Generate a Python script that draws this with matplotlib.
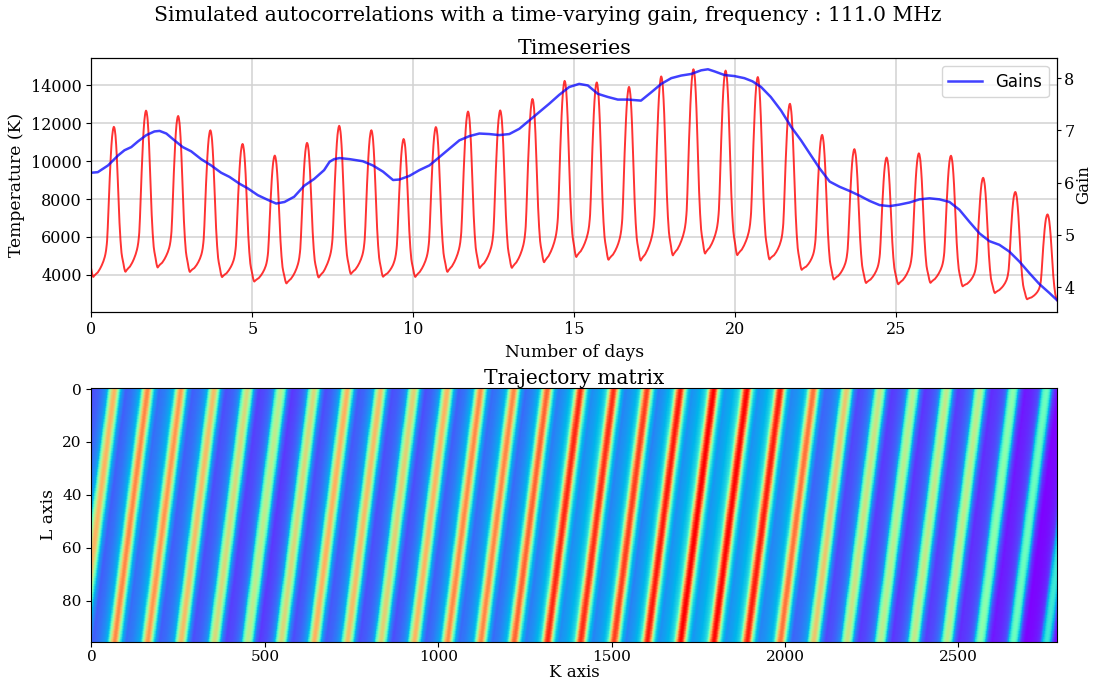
import numpy as np
import matplotlib
matplotlib.use("Agg")
import matplotlib.pyplot as plt

# ---------------------------------------------------------------
# Simulation inputs
# ---------------------------------------------------------------
SAMPLES_PER_DAY = 96          # 15-minute integrations
N_DAYS = 30
WINDOW_L = 96                 # embedding window (one day)
FREQ_MHZ = 111.0

# Sky brightness temperature over one day (K), one value per 15 min
sky_profile_k = [
    692, 675, 660, 648, 638, 631, 628, 632, 635, 639,
    642, 646, 649, 651, 653, 656, 658, 661, 663, 665,
    669, 673, 676, 680, 685, 690, 694, 699, 704, 709,
    714, 720, 726, 732, 738, 745, 752, 760, 768, 776,
    786, 797, 809, 824, 840, 862, 887, 918, 966, 1026,
    1099, 1171, 1244, 1316, 1376, 1437, 1497, 1557, 1606, 1654,
    1696, 1732, 1763, 1787, 1805, 1821, 1830, 1835, 1830, 1821,
    1805, 1784, 1757, 1720, 1678, 1630, 1576, 1515, 1449, 1376,
    1304, 1232, 1159, 1093, 1032, 978, 930, 887, 851, 815,
    785, 765, 748, 735, 722, 710,
]

# Receiver gain drift (day, gain)
gain_days = [
    0.0, 0.2, 0.52, 0.83, 1.03, 1.24, 1.45, 1.71, 1.96, 2.12,
    2.33, 2.58, 2.84, 3.1, 3.41, 3.72, 4.03, 4.29, 4.6, 4.86,
    5.17, 5.48, 5.74, 6.0, 6.3, 6.61, 6.92, 7.23, 7.4, 7.54,
    7.71, 8.02, 8.43, 8.74, 9.06, 9.37, 9.57, 9.88, 10.19, 10.5,
    10.81, 11.12, 11.43, 11.74, 12.05, 12.36, 12.67, 12.98, 13.29, 13.6,
    13.91, 14.22, 14.53, 14.84, 15.15, 15.42, 15.73, 16.04, 16.35, 16.66,
    17.07, 17.39, 17.7, 18.01, 18.32, 18.63, 18.94, 19.15, 19.35, 19.66,
    19.97, 20.28, 20.53, 20.8, 21.1, 21.42, 21.73, 22.04, 22.35, 22.62,
    22.93, 23.24, 23.55, 23.86, 24.17, 24.48, 24.79, 25.1, 25.41, 25.72,
    26.03, 26.34, 26.65, 26.96, 27.27, 27.58, 27.89, 28.2, 28.51, 28.82,
    29.13, 29.44, 29.75, 29.99,
]
gain_values = [
    6.19, 6.20, 6.33, 6.52, 6.62, 6.68, 6.79, 6.91, 6.98, 6.99,
    6.94, 6.81, 6.68, 6.60, 6.45, 6.33, 6.19, 6.11, 5.98, 5.89,
    5.76, 5.67, 5.60, 5.63, 5.73, 5.94, 6.07, 6.24, 6.40, 6.45,
    6.47, 6.45, 6.41, 6.33, 6.21, 6.05, 6.06, 6.13, 6.24, 6.33,
    6.49, 6.65, 6.81, 6.89, 6.94, 6.93, 6.91, 6.93, 7.03, 7.19,
    7.35, 7.51, 7.68, 7.83, 7.89, 7.86, 7.70, 7.64, 7.59, 7.59,
    7.57, 7.73, 7.89, 8.00, 8.05, 8.08, 8.15, 8.17, 8.13, 8.06,
    8.04, 8.00, 7.94, 7.83, 7.64, 7.38, 7.07, 6.81, 6.52, 6.27,
    6.02, 5.92, 5.84, 5.75, 5.65, 5.57, 5.55, 5.58, 5.62, 5.68,
    5.70, 5.68, 5.63, 5.48, 5.25, 5.03, 4.88, 4.81, 4.68, 4.49,
    4.27, 4.06, 3.89, 3.75,
]

# ---------------------------------------------------------------
# Build the autocorrelation timeseries and its trajectory matrix
# ---------------------------------------------------------------
days = np.arange(N_DAYS * SAMPLES_PER_DAY) / SAMPLES_PER_DAY
gain_on_grid = np.interp(days, gain_days, gain_values)
sky = np.tile(np.asarray(sky_profile_k, dtype=float), N_DAYS)
autocorr = gain_on_grid * sky

K = autocorr.size - WINDOW_L + 1
trajectory = np.lib.stride_tricks.sliding_window_view(autocorr, K)  # (L, K)

# ---------------------------------------------------------------
# Plot
# ---------------------------------------------------------------
plt.rcParams["font.family"] = "DejaVu Serif"
plt.rcParams["xtick.labelsize"] = 11.5
plt.rcParams["ytick.labelsize"] = 11.5
plt.rcParams["axes.labelsize"] = 12.3

fig = plt.figure(figsize=(10.95, 6.88), dpi=100)
ax_ts = fig.add_axes([0.0834, 0.5469, 0.8819, 0.3692])
ax_tm = fig.add_axes([0.0834, 0.0673, 0.8819, 0.3692])

fig.text(0.5, 0.970,
         f"Simulated autocorrelations with a time-varying gain, frequency : {FREQ_MHZ} MHz",
         ha="center", va="baseline", fontsize=14.6)

# Timeseries panel
ax_ts.plot(days, autocorr, color="red", lw=1.4, alpha=0.8)
ax_ts.set_xlim(days[0], days[-1])
ax_ts.set_xlabel("Number of days")
ax_ts.set_ylabel("Temperature (K)")
ax_ts.set_title("Timeseries", fontsize=14.8, pad=1)
ax_ts.grid(True, color="#d2d2d2", lw=1.1)
ax_ts.set_axisbelow(True)

ax_gain = ax_ts.twinx()
ax_gain.plot(gain_days, gain_values, color="blue", lw=1.8, alpha=0.75, label="Gains")
ax_gain.tick_params(axis="y", length=2.8, pad=2.5)
ax_gain.set_ylabel("Gain", fontsize=12, labelpad=0.5)
ax_gain.legend(loc="upper right", prop={"family": "DejaVu Sans", "size": 12})

# Trajectory matrix panel
ax_tm.imshow(trajectory, aspect="auto", cmap="rainbow", interpolation="nearest")
ax_tm.set_title("Trajectory matrix", fontsize=14.6, pad=1)
ax_tm.tick_params(axis="x", labelsize=11, pad=2.5)
ax_tm.tick_params(axis="y", labelsize=11)
ax_tm.set_xlabel("K axis", fontsize=12, labelpad=0)
ax_tm.set_ylabel("L axis")

fig.savefig("out.png", dpi=100)
